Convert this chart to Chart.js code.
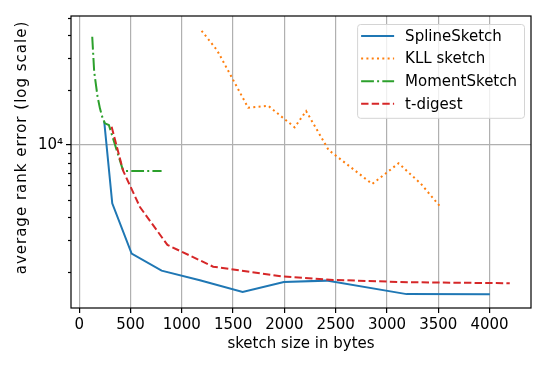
<!DOCTYPE html>
<html>
<head>
<meta charset="utf-8">
<script src="https://cdn.jsdelivr.net/npm/chart.js@4.4.1/dist/chart.umd.min.js"></script>
<style>
  html, body { margin: 0; padding: 0; background: #fff; }
</style>
</head>
<body>
<canvas id="chart" width="548" height="366"></canvas>
<script>
// values (x = sketch size in bytes, y = average rank error)
const splineX = [244, 322, 511, 803, 1176, 1593, 1995, 2411, 3191, 4003];
const splineY = [13430, 4784, 2529, 2038, 1806, 1556, 1766, 1796, 1514, 1510];

const kllX = [1193, 1345, 1647, 1842, 2100, 2212, 2431, 2856, 3113, 3330, 3516];
const kllY = [42470, 33120, 16030, 16440, 12510, 15370, 9387, 6107, 7932, 6126, 4606];

const momentX = [127, 146, 179, 202, 224, 250, 289, 429, 803];
const momentY = [39350, 25290, 18420, 15900, 14300, 13160, 12880, 7196, 7196];

const tdigestX = [316, 429, 592, 860, 1306, 1995, 2476, 3200, 4197];
const tdigestY = [12600, 7196, 4563, 2822, 2143, 1890, 1812, 1760, 1738];

const xTicks = [0, 500, 1000, 1500, 2000, 2500, 3000, 3500, 4000];
const yTicks = [2000, 3000, 4000, 5000, 6000, 7000, 8000, 9000, 10000, 20000, 30000, 40000, 50000];
const yMajor = 10000;
const yTitle = "average rank error (log scale)";

const FONT = '"DejaVu Sans", sans-serif';
Chart.defaults.font.family = FONT;
Chart.defaults.font.size = 15;
Chart.defaults.color = "#000";

function pts(xs, ys) {
  return xs.map((x, i) => ({ x, y: ys[i] }));
}

// frame, minor y ticks, y title and legend, matplotlib style
const frame = {
  id: "frame",
  afterDraw(chart) {
    const { ctx, chartArea: a } = chart;
    const y = chart.scales.y;
    ctx.save();
    ctx.strokeStyle = "#000";
    ctx.lineWidth = 1.2;
    yTicks.forEach((v) => {
      if (v === yMajor) return;
      const py = Math.round(y.getPixelForValue(v)) + 0.5;
      ctx.beginPath();
      ctx.moveTo(a.left, py);
      ctx.lineTo(a.left - 3, py);
      ctx.stroke();
    });
    ctx.strokeRect(a.left, a.top, a.right - a.left, a.bottom - a.top);

    // y title (slightly spread, like the reference)
    ctx.save();
    ctx.font = "15px " + FONT;
    ctx.letterSpacing = "1px";
    ctx.translate(22.5, 147.5);
    ctx.rotate(-Math.PI / 2);
    ctx.textAlign = "center";
    ctx.textBaseline = "middle";
    ctx.fillStyle = "#000";
    ctx.fillText(yTitle, 0, 0);
    ctx.restore();

    // legend
    ctx.font = "15px " + FONT;
    const sets = chart.data.datasets;
    const maxW = Math.max(...sets.map((d) => ctx.measureText(d.label).width));
    const handle = 33, rowH = 22.6;
    const w = 4 + handle + 11 + maxW + 7;
    const h = 12 + rowH * (sets.length - 1) + 14;
    const bx = a.right - 7 - w, by = a.top + 8;
    ctx.beginPath();
    ctx.roundRect(bx + 0.5, by + 0.5, w, h, 3);
    ctx.fillStyle = "rgba(255,255,255,0.8)";
    ctx.fill();
    ctx.strokeStyle = "#d4d4d4";
    ctx.lineWidth = 1;
    ctx.stroke();
    sets.forEach((d, i) => {
      const cy = by + 12 + i * rowH;
      ctx.beginPath();
      ctx.setLineDash(d.borderDash || []);
      ctx.strokeStyle = d.borderColor;
      ctx.lineWidth = d.borderWidth;
      ctx.moveTo(bx + 4, cy);
      ctx.lineTo(bx + 4 + handle, cy);
      ctx.stroke();
      ctx.setLineDash([]);
      ctx.fillStyle = "#000";
      ctx.textBaseline = "middle";
      ctx.fillText(d.label, bx + 4 + handle + 11, cy + 1);
    });
    ctx.restore();
  },
};

const lineStyle = { borderWidth: 2, pointRadius: 0, tension: 0, fill: false, borderCapStyle: "butt" };

new Chart(document.getElementById("chart"), {
  type: "line",
  data: {
    datasets: [
      { label: "SplineSketch", data: pts(splineX, splineY), borderColor: "#1f77b4", order: 3, ...lineStyle },
      { label: "KLL sketch", data: pts(kllX, kllY), borderColor: "#ff7f0e", borderDash: [2, 3.3], order: 2, ...lineStyle },
      { label: "MomentSketch", data: pts(momentX, momentY), borderColor: "#2ca02c", borderDash: [12.8, 3.2, 2, 3.2], order: 1, ...lineStyle },
      { label: "t-digest", data: pts(tdigestX, tdigestY), borderColor: "#d62728", borderDash: [7.4, 3.2], order: 0, ...lineStyle },
    ],
  },
  options: {
    responsive: false,
    animation: false,
    devicePixelRatio: 1,
    layout: { padding: { top: 16, right: 17, left: 0, bottom: 0 } },
    plugins: { legend: { display: false }, tooltip: { enabled: false } },
    scales: {
      x: {
        type: "linear",
        min: -80,
        max: 4404,
        afterBuildTicks: (s) => { s.ticks = xTicks.map((v) => ({ value: v })); },
        afterFit: (s) => { s.height = 58; },
        ticks: { padding: 3, maxRotation: 0, autoSkip: false, callback: (v) => String(v) },
        grid: { color: "#b0b0b0", lineWidth: 1.2, tickColor: "#000", tickLength: 5, tickWidth: 1.2 },
        border: { display: false },
        title: { display: true, text: "sketch size in bytes", padding: { top: 0, bottom: 13 } },
      },
      y: {
        type: "logarithmic",
        min: 1270,
        max: 51200,
        afterBuildTicks: (s) => { s.ticks = yTicks.map((v) => ({ value: v })); },
        afterFit: (s) => { s.width = 71; },
        ticks: { padding: 3, autoSkip: false, callback: (v) => (v === yMajor ? "10\u2074" : "") },
        grid: {
          color: (c) => (c.tick && c.tick.value === yMajor ? "#b0b0b0" : "rgba(0,0,0,0)"),
          tickColor: (c) => (c.tick && c.tick.value === yMajor ? "#000" : "rgba(0,0,0,0)"),
          lineWidth: 1.2, tickLength: 5, tickWidth: 1.2,
        },
        border: { display: false },
      },
    },
  },
  plugins: [frame],
});
</script>
</body>
</html>
